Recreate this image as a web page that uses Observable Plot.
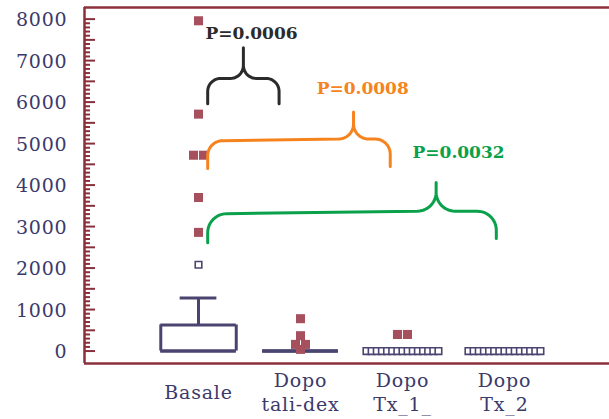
<!DOCTYPE html>
<html>
<head>
<meta charset="utf-8">
<script src="https://cdn.jsdelivr.net/npm/d3@7"></script>
<script src="https://cdn.jsdelivr.net/npm/@observablehq/plot@0.6"></script>
<style>
  html, body { margin: 0; padding: 0; background: #ffffff; }
  #chart svg { display: block; }
  #chart g[font-size="19"] text { letter-spacing: 0.8px; }
</style>
</head>
<body>
<div id="chart"></div>
<script>
// ---------- data ----------
const categories = ["Basale", "Dopo\ntali-dex", "Dopo\nTx_1_", "Dopo\nTx_2"];
const q1 = [0, 0, 0, 0];
const median = [0, 0, 0, 0];
const q3 = [630, 0, 0, 0];
const whiskerHigh = [1280, 0, 0, 0];
// open squares (outliers)
const outliers = [
  [2080],
  [],
  [0, 0, 0, 0, 0, 0, 0, 0, 0, 0, 0, 0, 0, 0, 0],
  [0, 0, 0, 0, 0, 0, 0, 0, 0, 0, 0, 0, 0, 0, 0]
];
// filled squares (extreme values)
const extremes = [
  [7960, 5710, 4720, 4720, 3700, 2860],
  [780, 370, 160, 160, 40],
  [400, 400],
  []
];
const yTickLabels = [0, 1000, 2000, 3000, 4000, 5000, 6000, 7000, 8000];
const comparisons = [
  { from: 0, to: 1, label: "P=0.0006" },
  { from: 0, to: 2, label: "P=0.0008" },
  { from: 0, to: 3, label: "P=0.0032" }
];

// ---------- layout ----------
const W = 609, H = 419, mL = 84, mR = 0, mT = 7, mB = 56;
const xDom = [-1.118, categories.length - 1 + 1.03];
const yDom = [-300, 8280];
const ux = (xDom[1] - xDom[0]) / (W - mL - mR);   // x units per px
const uy = (yDom[1] - yDom[0]) / (H - mT - mB);   // y units per px

const axisColor = "#8b2f3b";
const boxColor = "#4a4570";
const textColor = "#3b3a6b";
const dotColor = "#a6505e";
const serif = "'DejaVu Serif', serif";

// brace annotation geometry (data units) per comparison
const braceStyle = [
  { color: "#2b2b2b", x0: 0.09, x1: 0.79, xp: 0.44, endL: 5960, endR: 5960, barL: 6570, barR: 6570, peak: 7310, r: 13, lx: 0.52, ly: 7650 },
  { color: "#f5841f", x0: 0.09, x1: 1.88, xp: 1.52, endL: 4400, endR: 4450, barL: 5070, barR: 5110, peak: 5760, r: 15, lx: 1.61, ly: 6325 },
  { color: "#0aa14a", x0: 0.09, x1: 2.92, xp: 2.33, endL: 2610, endR: 2710, barL: 3310, barR: 3370, peak: 4060, r: 19, lx: 2.55, ly: 4783 }
];

function arc(cx, cy, rx, ry, a0, a1, n = 12) {
  const pts = [];
  for (let i = 0; i <= n; i++) {
    const a = (a0 + (a1 - a0) * i / n) * Math.PI / 180;
    pts.push([cx + rx * Math.cos(a), cy + ry * Math.sin(a)]);
  }
  return pts;
}
function bracePoints(b, id) {
  const rx = b.r * ux, ry = b.r * uy;
  const p = [];
  p.push([b.x0, b.endL]);
  p.push(...arc(b.x0 + rx, b.barL - ry, rx, ry, 180, 90));
  p.push(...arc(b.xp - rx, b.barR + ry, rx, ry, -90, 0));
  p.push([b.xp, b.peak]);
  p.push(...arc(b.xp + rx, b.barR + ry, rx, ry, 180, 270));
  p.push(...arc(b.x1 - rx, b.barR - ry, rx, ry, 90, 0));
  p.push([b.x1, b.endR]);
  return p.map(([x, y]) => ({ x, y, id }));
}

function spread(groups, stepPx) {
  const out = [];
  groups.forEach((vals, i) => {
    const counts = d3.rollup(vals, v => v.length, d => d);
    const seen = new Map();
    vals.forEach(v => {
      const n = counts.get(v), k = seen.get(v) || 0;
      seen.set(v, k + 1);
      out.push({ x: i + (k - (n - 1) / 2) * stepPx * ux, y: v });
    });
  });
  return out;
}

const boxHalf = 0.37, capHalf = 0.18;
const boxes = categories.map((c, i) => ({ i, q1: q1[i], q3: q3[i], med: median[i], hi: whiskerHigh[i] }));
const whiskers = boxes.filter(b => b.hi > b.q3);
const openPts = spread(outliers, 5.14);
const filledPts = spread(extremes, 10);
const braceLines = comparisons.flatMap((c, k) => bracePoints(braceStyle[k], k));
const braceLabels = comparisons.map((c, k) => ({ x: braceStyle[k].lx, y: braceStyle[k].ly, text: c.label, color: braceStyle[k].color }));

const majorTicks = d3.range(0, 8001, 500);
const minorTicks = d3.range(0, 8001, 100).filter(v => v % 500 !== 0);

const chart = Plot.plot({
  width: W, height: H,
  marginLeft: mL, marginRight: mR, marginTop: mT, marginBottom: mB,
  style: { background: "#ffffff", fontFamily: serif },
  x: { domain: xDom, axis: null },
  y: { domain: yDom, axis: null },
  marks: [
    // box edges
    Plot.ruleY(boxes, { y: "q1", x1: d => d.i - boxHalf, x2: d => d.i + boxHalf, stroke: boxColor, strokeWidth: 3 }),
    Plot.ruleY(boxes, { y: "q3", x1: d => d.i - boxHalf, x2: d => d.i + boxHalf, stroke: boxColor, strokeWidth: 3 }),
    Plot.ruleY(boxes, { y: "med", x1: d => d.i - boxHalf, x2: d => d.i + boxHalf, stroke: boxColor, strokeWidth: 3 }),
    Plot.ruleX(boxes.filter(b => b.q3 > b.q1), { x: d => d.i - boxHalf, y1: "q1", y2: "q3", stroke: boxColor, strokeWidth: 3 }),
    Plot.ruleX(boxes.filter(b => b.q3 > b.q1), { x: d => d.i + boxHalf, y1: "q1", y2: "q3", stroke: boxColor, strokeWidth: 3 }),
    // whiskers
    Plot.ruleX(whiskers, { x: "i", y1: "q3", y2: "hi", stroke: boxColor, strokeWidth: 3 }),
    Plot.ruleY(whiskers, { y: "hi", x1: d => d.i - capHalf, x2: d => d.i + capHalf, stroke: boxColor, strokeWidth: 3 }),
    // outliers
    Plot.dot(openPts, { x: "x", y: "y", symbol: "square", r: 3.7, fill: "#ffffff", stroke: boxColor, strokeWidth: 1.6 }),
    Plot.dot(filledPts, { x: "x", y: "y", symbol: "square", r: 5.1, fill: dotColor, stroke: "none" }),
    // braces
    Plot.line(braceLines, { x: "x", y: "y", z: "id", stroke: d => braceStyle[d.id].color, strokeWidth: 3, curve: "linear" }),
    Plot.text(braceLabels, { x: "x", y: "y", text: "text", fill: d => d.color, fontWeight: "bold", fontSize: 17, fontFamily: serif }),
    // frame
    Plot.ruleY([yDom[1]], { stroke: axisColor, strokeWidth: 2.5 }),
    Plot.ruleY([yDom[0]], { stroke: axisColor, strokeWidth: 2.5 }),
    Plot.ruleX([xDom[0]], { stroke: axisColor, strokeWidth: 2.5 }),
    // y ticks (inside)
    Plot.ruleY(majorTicks, { y: d => d, x1: xDom[0], x2: xDom[0] + 11 * ux, stroke: axisColor, strokeWidth: 2 }),
    Plot.ruleY(minorTicks, { y: d => d, x1: xDom[0], x2: xDom[0] + 6 * ux, stroke: axisColor, strokeWidth: 2 }),
    // y tick labels
    Plot.text(yTickLabels, { y: d => d, text: d => String(d), frameAnchor: "left", textAnchor: "end", dx: -17, dy: 1, fontSize: 19, fill: textColor, fontFamily: serif }),
    // x category labels
    Plot.text(categories, { x: (d, i) => i, text: d => d, frameAnchor: "bottom", lineAnchor: "middle", dy: 28, fontSize: 19, lineHeight: 1.25, fill: textColor, fontFamily: serif })
  ]
});
document.getElementById("chart").appendChild(chart);
</script>
</body>
</html>
